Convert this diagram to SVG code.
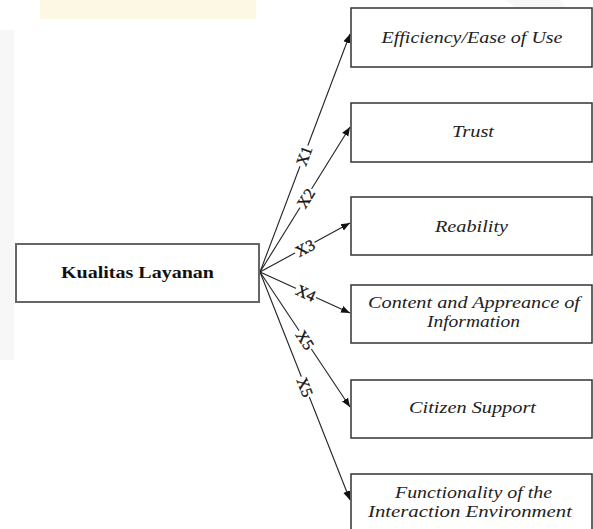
<svg xmlns="http://www.w3.org/2000/svg" width="593" height="529" viewBox="0 0 593 529">
<style>
.box{fill:#fff;stroke:#333;stroke-width:1.5}
.main{fill:#fff;stroke:#666;stroke-width:2}
.lbl{font-family:"Liberation Serif",serif;font-style:italic;font-size:16px;fill:#222;text-anchor:middle}
.mlbl{font-family:"Liberation Serif",serif;font-weight:bold;font-size:16px;fill:#111;text-anchor:middle}
.edge{stroke:#222;stroke-width:1.1;fill:none;marker-end:url(#arr)}
.xl{font-family:"Liberation Serif",serif;font-size:16px;fill:#111;text-anchor:middle;stroke:#111;stroke-width:0.3}
.bg{fill:#fff}
.wm{fill:#f7f7f7}
</style>
<defs>
<marker id="arr" viewBox="0 0 10 10" refX="10" refY="5" markerWidth="9" markerHeight="9" markerUnits="userSpaceOnUse" orient="auto">
<path d="M0,1 L10,5 L0,9 Z" fill="#111"/>
</marker>
</defs>
<rect width="593" height="529" fill="#fff"/>
<g id="watermark">
<rect x="40" y="0" width="216" height="19" fill="#fdf8e4"/>
<rect x="0" y="30" width="14" height="330" class="wm"/>
<polygon points="505,0 560,0 593,40 593,60" class="wm"/>
</g>
<g id="connectors">
<line class="edge" x1="260" y1="272" x2="350" y2="34"/>
<line class="edge" x1="260" y1="272" x2="350" y2="127"/>
<line class="edge" x1="260" y1="272" x2="350" y2="223"/>
<line class="edge" x1="260" y1="272" x2="350" y2="313"/>
<line class="edge" x1="260" y1="272" x2="350" y2="407"/>
<line class="edge" x1="260" y1="272" x2="350" y2="500"/>
<g transform="translate(304,156) rotate(-69.3)"><rect class="bg" x="-11" y="-6" width="22" height="12"/><text class="xl" y="5.5">X1</text></g>
<g transform="translate(305.8,198.2) rotate(-58.2)"><rect class="bg" x="-11" y="-6" width="22" height="12"/><text class="xl" y="5.5">X2</text></g>
<g transform="translate(305,248) rotate(-28.6)"><rect class="bg" x="-11" y="-6" width="22" height="12"/><text class="xl" y="5.5">X3</text></g>
<g transform="translate(305.9,293.1) rotate(24.7)"><rect class="bg" x="-11" y="-6" width="22" height="12"/><text class="xl" y="5.5">X4</text></g>
<g transform="translate(305,340) rotate(56.6)"><rect class="bg" x="-11" y="-6" width="22" height="12"/><text class="xl" y="5.5">X5</text></g>
<g transform="translate(305,387) rotate(68.7)"><rect class="bg" x="-11" y="-6" width="22" height="12"/><text class="xl" y="5.5">X5</text></g>
</g>
<g id="kualitas">
<rect class="main" x="16" y="244" width="243" height="58"/>
<text class="mlbl" x="137.5" y="278" textLength="153" lengthAdjust="spacingAndGlyphs">Kualitas Layanan</text>
</g>
<g id="efficiency">
<rect class="box" x="351" y="8" width="241" height="59"/>
<text class="lbl" x="472" y="43" textLength="181" lengthAdjust="spacingAndGlyphs">Efficiency/Ease of Use</text>
</g>
<g id="trust">
<rect class="box" x="351" y="103" width="241" height="59"/>
<text class="lbl" x="473" y="137" textLength="42" lengthAdjust="spacingAndGlyphs">Trust</text>
</g>
<g id="reability">
<rect class="box" x="351" y="197" width="241" height="58"/>
<text class="lbl" x="471.5" y="232" textLength="73" lengthAdjust="spacingAndGlyphs">Reability</text>
</g>
<g id="content">
<rect class="box" x="351" y="285" width="241" height="58"/>
<text class="lbl" x="474" y="308" textLength="212" lengthAdjust="spacingAndGlyphs">Content and Appreance of</text>
<text class="lbl" x="473.5" y="327" textLength="93" lengthAdjust="spacingAndGlyphs">Information</text>
</g>
<g id="citizen">
<rect class="box" x="351" y="380" width="241" height="58"/>
<text class="lbl" x="472.5" y="413" textLength="127" lengthAdjust="spacingAndGlyphs">Citizen Support</text>
</g>
<g id="functionality">
<rect class="box" x="351" y="474" width="241" height="58"/>
<text class="lbl" x="473.5" y="498" textLength="157" lengthAdjust="spacingAndGlyphs">Functionality of the</text>
<text class="lbl" x="470" y="517" textLength="204" lengthAdjust="spacingAndGlyphs">Interaction Environment</text>
</g>
</svg>
